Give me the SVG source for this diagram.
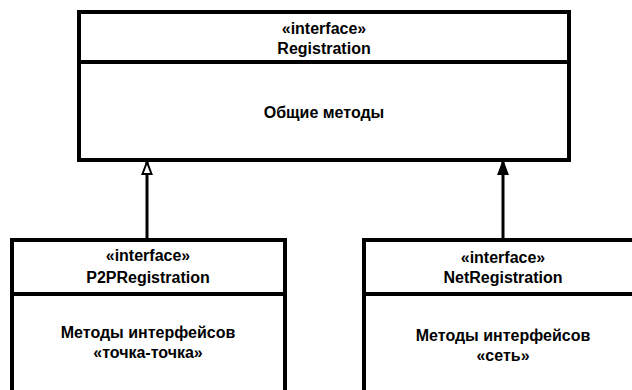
<svg xmlns="http://www.w3.org/2000/svg" width="632" height="390" viewBox="0 0 632 390">
<style>
.box{fill:#fff;stroke:#000;stroke-width:4}
.div{stroke:#000;stroke-width:4}
.t{font-family:"Liberation Sans",Arial,sans-serif;font-weight:bold;font-size:16px;text-anchor:middle;fill:#000}
.conn{stroke:#000;stroke-width:3;fill:none}
</style>
<defs>
<marker id="genHollow" markerUnits="userSpaceOnUse" markerWidth="16" markerHeight="14" refX="14" refY="7" orient="auto-start-reverse" viewBox="0 0 16 14">
<path d="M14 7 L2 2.5 L2 11.5 Z" fill="#fff" stroke="#000" stroke-width="2"/>
</marker>
<marker id="genFilled" markerUnits="userSpaceOnUse" markerWidth="16" markerHeight="14" refX="14" refY="7" orient="auto-start-reverse" viewBox="0 0 16 14">
<path d="M14 7 L2 2.5 L2 11.5 Z" fill="#000" stroke="#000" stroke-width="2"/>
</marker>
</defs>
<rect width="632" height="390" fill="#fff"/>
<g id="connectors">
<path class="conn" d="M147 162 L147 240" marker-start="url(#genHollow)"/>
<path class="conn" d="M503 162 L503 240" marker-start="url(#genFilled)"/>
</g>
<g id="registration">
<rect class="box" x="79" y="12" width="490" height="148"/>
<line class="div" x1="79" y1="62" x2="569" y2="62"/>
<text class="t" x="324" y="34">«interface»</text>
<text class="t" x="324" y="54">Registration</text>
<text class="t" x="324" y="118">Общие методы</text>
</g>
<g id="p2pRegistration">
<rect class="box" x="12" y="240" width="273" height="170"/>
<line class="div" x1="12" y1="294" x2="285" y2="294"/>
<text class="t" x="148" y="261">«interface»</text>
<text class="t" x="148" y="283">P2PRegistration</text>
<text class="t" x="148" y="338">Методы интерфейсов</text>
<text class="t" x="148" y="358">«точка-точка»</text>
</g>
<g id="netRegistration">
<rect class="box" x="364" y="240" width="280" height="170"/>
<line class="div" x1="364" y1="294" x2="644" y2="294"/>
<text class="t" x="503" y="263">«interface»</text>
<text class="t" x="503" y="283">NetRegistration</text>
<text class="t" x="503" y="341">Методы интерфейсов</text>
<text class="t" x="503" y="361">«сеть»</text>
</g>
</svg>
